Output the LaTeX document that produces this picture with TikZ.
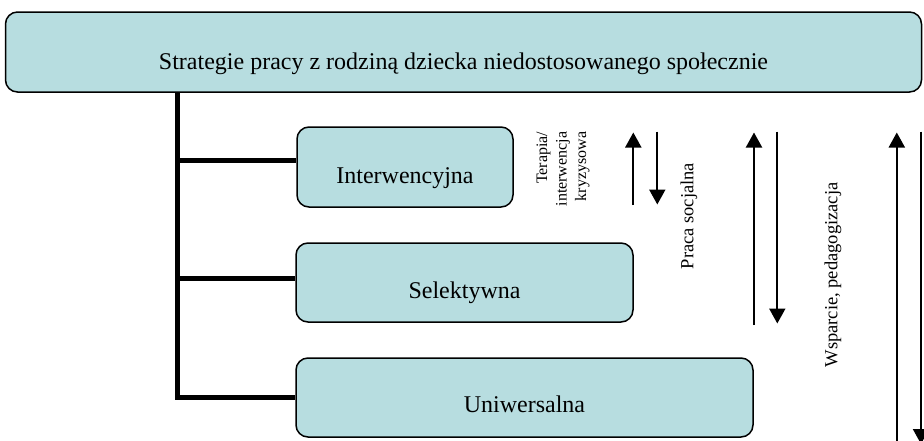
\documentclass[tikz,border=0pt]{standalone}
\usepackage{fontspec}
\setmainfont{Liberation Serif}
\usetikzlibrary{arrows.meta}
\definecolor{boxfill}{HTML}{B7DDE0}
\tikzset{
  box/.style={draw=black, line width=1.5pt, fill=boxfill, rounded corners=12pt, inner sep=0pt},
  boxtext/.style={anchor=base, inner sep=0pt, font=\fontsize{24}{28}\selectfont},
  conn/.style={line width=5pt, line join=miter},
  arr/.style={line width=2pt, -{Triangle[width=16pt,length=15pt]}},
  vlabel/.style={rotate=90, inner sep=0pt}
}
\begin{document}
\begin{tikzpicture}[x=1pt,y=-1pt]
\useasboundingbox (0,0) rectangle (924,440);
\fill[white] (0,0) rectangle (924,440);
% boxes
\node[box, minimum width=916pt, minimum height=80pt] (top) at (463.5,52) {};
\node[box, minimum width=216pt, minimum height=80pt] (inter) at (405,167) {};
\node[box, minimum width=337pt, minimum height=79pt] (sel) at (464.5,282.5) {};
\node[box, minimum width=457pt, minimum height=79pt] (uni) at (524.5,397.5) {};
% texts
\node[boxtext] (toptext) at ([yshift=-17pt]top.center) {Strategie pracy z rodziną dziecka niedostosowanego społecznie};
\node[boxtext] (intertext) at ([yshift=-16pt]inter.center) {Interwencyjna};
\node[boxtext] (seltext) at ([yshift=-15.5pt]sel.center) {Selektywna};
\node[boxtext] (unitext) at ([yshift=-15pt]uni.center) {Uniwersalna};
% connectors
\coordinate (b1) at (177,160);
\coordinate (b2) at (177,278);
\coordinate (b3) at (177,397.5);
\draw[conn] (top.south -| b1) |- (uni.west |- b3);
\draw[conn] (b1) -- (b1 -| inter.west);
\draw[conn] (b2) -- (b2 -| sel.west);
% arrows
\coordinate (u1s) at (633.3,205); \coordinate (u1e) at (633.3,132.5);
\coordinate (d1s) at (657.3,131.5); \coordinate (d1e) at (657.3,204.5);
\coordinate (u2s) at (754,325); \coordinate (u2e) at (754,132.5);
\coordinate (d2s) at (777.3,131.5); \coordinate (d2e) at (777.3,323.5);
\coordinate (u3s) at (896.8,445); \coordinate (u3e) at (896.8,132.5);
\coordinate (d3s) at (921,131.5); \coordinate (d3e) at (921,444);
\draw[arr] (u1s) -- (u1e);
\draw[arr] (d1s) -- (d1e);
\draw[arr] (u2s) -- (u2e);
\draw[arr] (d2s) -- (d2e);
\draw[arr] (u3s) -- (u3e);
\draw[arr] (d3s) -- (d3e);
% rotated labels
\node[vlabel, anchor=east, align=right, font=\fontsize{16}{19.5}\selectfont] (terapia) at (563,131.5) {Terapia/\\interwencja\\kryzysowa};
\node[vlabel, font=\fontsize{18.5}{22}\selectfont] (praca) at (689,216) {Praca socjalna};
\node[vlabel, font=\fontsize{18.5}{22}\selectfont] (wsparcie) at (833,275) {Wsparcie, pedagogizacja};
\end{tikzpicture}
\end{document}
